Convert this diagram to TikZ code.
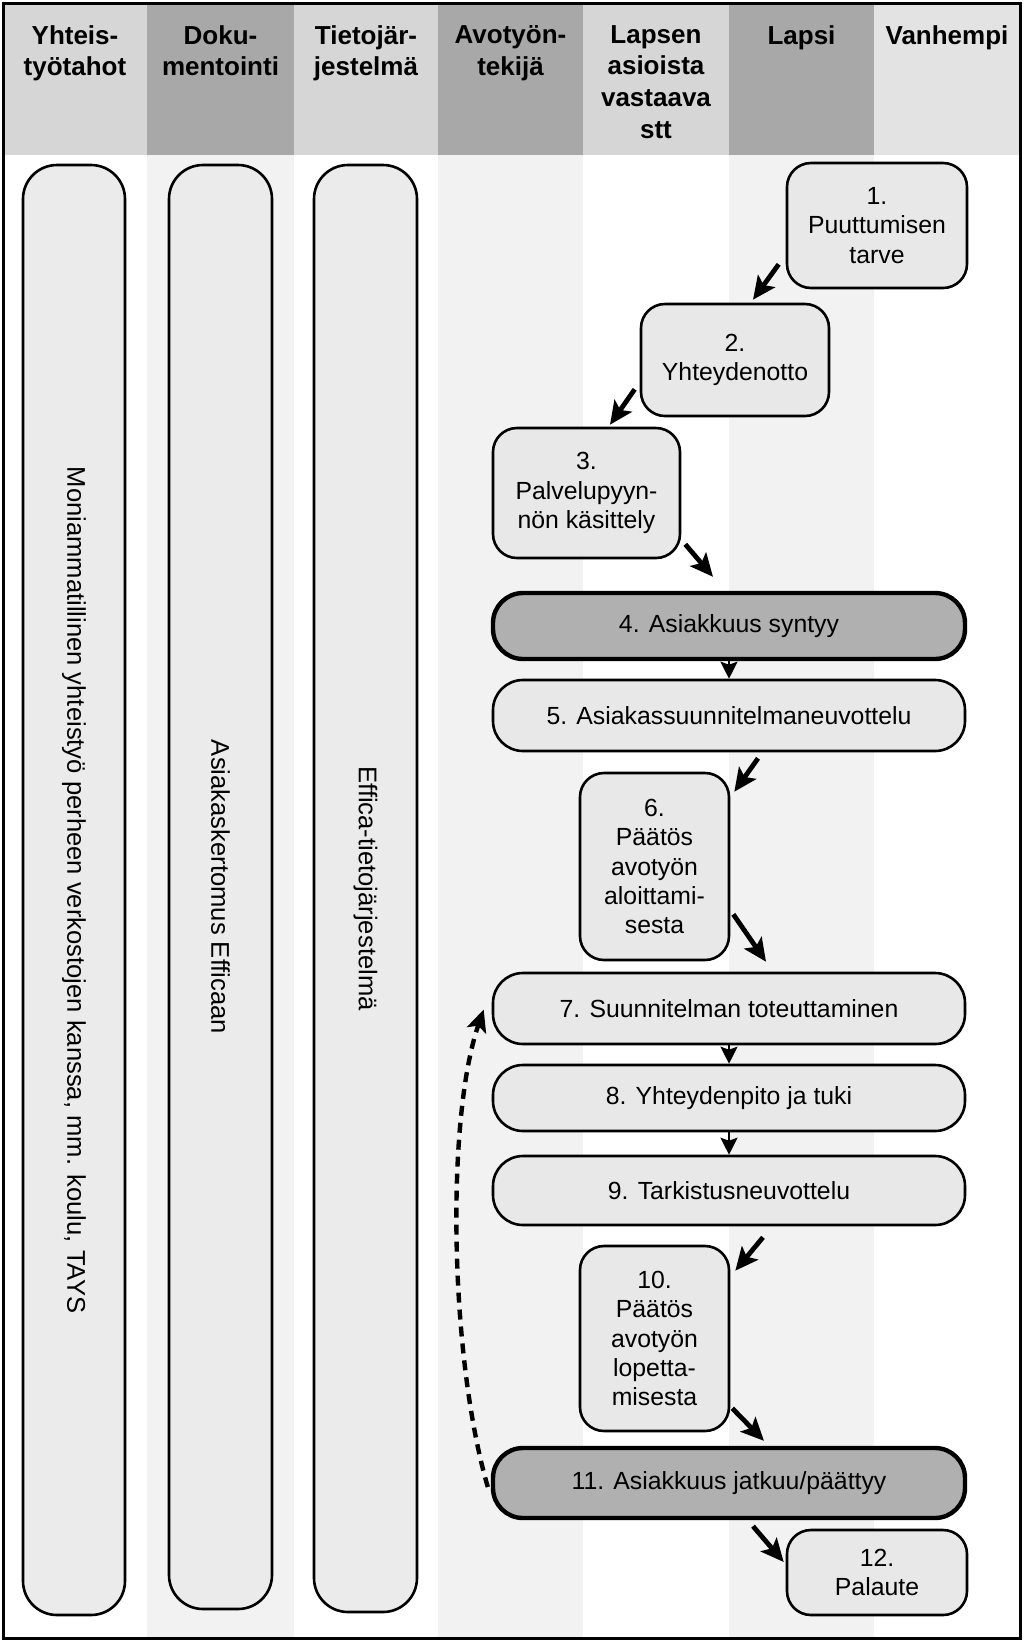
\documentclass[tikz,border=0pt]{standalone}
\usepackage{fontspec}
\setmainfont{Liberation Sans}
\usetikzlibrary{arrows.meta,calc}
\definecolor{hdlight}{gray}{0.84}
\definecolor{hddark}{gray}{0.66}
\definecolor{hdpale}{gray}{0.89}
\definecolor{lanetint}{gray}{0.95}
\definecolor{boxfill}{gray}{0.91}
\definecolor{keyfill}{gray}{0.69}
\definecolor{barfill}{gray}{0.92}
\begin{document}
\begin{tikzpicture}[x=0.5pt,y=-0.5pt,
  hd/.style={font=\bfseries\fontsize{13}{15.8}\selectfont,align=center,inner sep=0pt,anchor=north},
  box/.style={draw=black,line width=1.3pt,fill=boxfill,rounded corners=12pt,align=center,inner sep=0pt,
              font=\fontsize{12.4}{14.6}\selectfont},
  wbox/.style={box,rounded corners=15pt,minimum width=236pt},
  keybox/.style={wbox,fill=keyfill,line width=2.2pt},
  bar/.style={draw=black,line width=1.3pt,fill=barfill,rounded corners=17pt,inner sep=0pt,rotate=-90,
              font=\fontsize{12.8}{15}\selectfont},
  arr/.style={line width=2.4pt,-{Stealth[length=11.5pt,width=10.5pt,inset=2.5pt]}},
  sarr/.style={line width=1.2pt,-{Stealth[length=8.5pt,width=8.5pt,inset=1.5pt]}},
  back/.style={line width=2.2pt,dash pattern=on 5pt off 3.5pt,-{Stealth[length=11pt,width=10pt,inset=2.5pt]}}
]
\useasboundingbox (0,0) rectangle (1024,1645);
\fill[white] (0,0) rectangle (1024,1645);
% header
\fill[hdlight] (3,3) rectangle (147,155);
\fill[hddark] (147,3) rectangle (294,155);
\fill[hdlight] (294,3) rectangle (438,155);
\fill[hddark] (438,3) rectangle (583,155);
\fill[hdlight] (583,3) rectangle (729,155);
\fill[hddark] (729,3) rectangle (874,155);
\fill[hdpale] (874,3) rectangle (1020,155);
% lanes
\fill[lanetint] (147,155) rectangle (294,1638);
\fill[lanetint] (438,155) rectangle (583,1638);
\fill[lanetint] (729,155) rectangle (874,1638);
% header texts
\node[hd] (h1) at (75,25) {Yhteis-\\työtahot};
\node[hd] (h2) at (220.5,25) {Doku-\\mentointi};
\node[hd] (h3) at (366,25) {Tietojär-\\jestelmä};
\node[hd] (h4) at (510.5,25) {Avotyön-\\tekijä};
\node[hd] (h5) at (656,25) {Lapsen\\asioista\\vastaava\\stt};
\node[hd] (h6) at (801.5,25) {Lapsi};
\node[hd] (h7) at (947,25) {Vanhempi};
% tall bars
\node[bar,minimum width=725pt,minimum height=51pt] (c1) at (74,890) {Moniammatillinen yhteistyö perheen verkostojen kanssa, mm. koulu, TAYS};
\node[bar,minimum width=722pt,minimum height=51.5pt] (c2) at (220.5,887) {Asiakaskertomus Efficaan};
\node[bar,minimum width=723.5pt,minimum height=51.5pt] (c3) at (365.5,888.5) {Effica-tietojärjestelmä};
% process boxes
\node[box,minimum width=90pt,minimum height=62.5pt] (b1) at (877,225.5) {1.\\Puuttumisen\\tarve};
\node[box,minimum width=94pt,minimum height=56pt] (b2) at (735,360) {2.\\Yhteydenotto};
\node[box,minimum width=93.5pt,minimum height=65pt] (b3) at (586.5,493) {3.\\Palvelupyyn-\\nön käsittely};
\node[keybox,minimum height=33pt] (b4) at (729,626) {4. Asiakkuus syntyy};
\node[wbox,minimum height=35.5pt] (b5) at (729,715.5) {5. Asiakassuunnitelmaneuvottelu};
\node[box,minimum width=74.5pt,minimum height=93.5pt] (b6) at (654.5,866.5) {6.\\Päätös\\avotyön\\aloittami-\\sesta};
\node[wbox,minimum height=35.5pt] (b7) at (729,1008.5) {7. Suunnitelman toteuttaminen};
\node[wbox,minimum height=33pt] (b8) at (729,1098) {8. Yhteydenpito ja tuki};
\node[wbox,minimum height=34.5pt] (b9) at (729,1190.5) {9. Tarkistusneuvottelu};
\node[box,minimum width=74.5pt,minimum height=92.5pt] (b10) at (654.5,1338.5) {10.\\Päätös\\avotyön\\lopetta-\\misesta};
\node[keybox,minimum height=35pt] (b11) at (729,1483) {11. Asiakkuus jatkuu/päättyy};
\node[box,minimum width=90pt,minimum height=42.5pt] (b12) at (877,1572.5) {12.\\Palaute};
% connectors
\draw[arr] ($(b1.south west)+(-7,-25)$) -- ($(b2.north)+(18,-3)$);
\draw[arr] ($(b2.south west)+(-5,-28)$) -- ($(b3.north)+(23.5,-2)$);
\draw[arr] ($(b3.south east)+(4,-15)$) -- ($(b4.north)+(-16,-14)$);
\draw[sarr] (b4.south) -- (b5.north);
\draw[arr] ($(b5.south)+(29,6)$) -- ($(b6.north east)+(4,20)$);
\draw[arr] ($(b6.south east)+(3,-47)$) -- ($(b7.north)+(37,-10)$);
\draw[sarr] (b7.south) -- (b8.north);
\draw[sarr] (b8.south) -- (b9.north);
\draw[arr] ($(b9.south)+(34,11)$) -- ($(b10.north east)+(5,26)$);
\draw[arr] ($(b10.south east)+(2,-24)$) -- ($(b11.north)+(35,-5)$);
\draw[arr] ($(b11.south)+(24,6)$) -- ($(b12.west)+(-2,-10.5)$);
\draw[back] ($(b11.west)+(-3,4)$) .. controls +(-38,-130) and +(-38,110) .. ($(b7.west)+(-8,1)$);
% frame
\draw[line width=1.5pt] (3,3) rectangle (1020,1638);
\end{tikzpicture}
\end{document}
